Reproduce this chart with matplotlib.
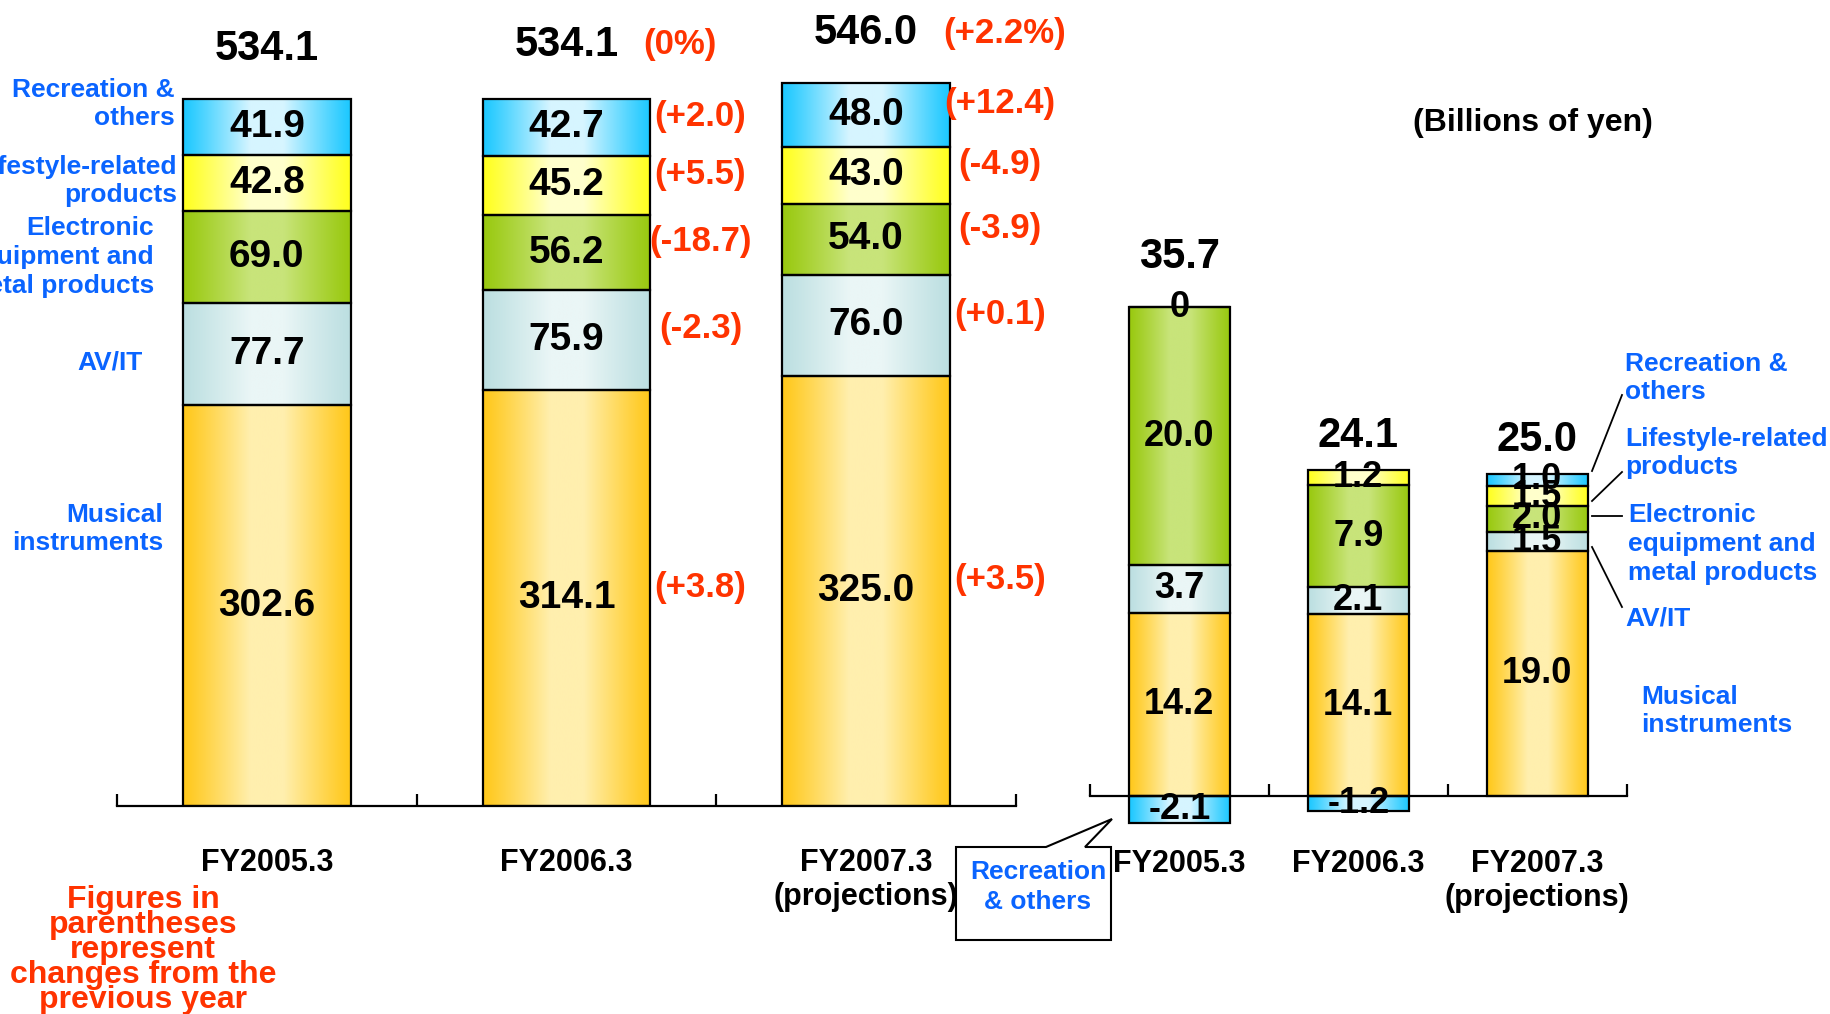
import numpy as np
import matplotlib.pyplot as plt
from matplotlib.patches import Polygon
from matplotlib.lines import Line2D

plt.rcParams['font.family'] = ['Liberation Sans', 'DejaVu Sans']
plt.rcParams['font.weight'] = 'bold'

W, H = 1831, 1014

# ---- data ----
years = ["FY2005.3", "FY2006.3", "FY2007.3\n(projections)"]
segments = ["Musical instruments", "AV/IT", "Electronic equipment and metal products",
            "Lifestyle-related products", "Recreation & others"]

# sales (billions of yen), bottom -> top
sales = [
    [302.6, 314.1, 325.0],   # musical instruments
    [77.7, 75.9, 76.0],      # AV/IT
    [69.0, 56.2, 54.0],      # electronic equipment
    [42.8, 45.2, 43.0],      # lifestyle-related
    [41.9, 42.7, 48.0],      # recreation & others
]
sales_total = ["534.1", "534.1", "546.0"]
sales_total_chg = ["", "(0%)", "(+2.2%)"]
sales_chg = [
    ["", "(+3.8)", "(+3.5)"],
    ["", "(-2.3)", "(+0.1)"],
    ["", "(-18.7)", "(-3.9)"],
    ["", "(+5.5)", "(-4.9)"],
    ["", "(+2.0)", "(+12.4)"],
]

# operating income (billions of yen)
income = [
    [14.2, 14.1, 19.0],
    [3.7, 2.1, 1.5],
    [20.0, 7.9, 2.0],
    [0.0, 1.2, 1.5],
    [-2.1, -1.2, 1.0],
]
income_total = ["35.7", "24.1", "25.0"]

# gradient colours (edge, centre) per segment
grads = [
    ("#FFC81A", "#FFEFAE"),
    ("#BCDFE1", "#EAF6F6"),
    ("#99C90F", "#C8E47A"),
    ("#FFFF1E", "#FFFFCC"),
    ("#1CC8FF", "#D6F5FF"),
]
BLUE = "#0A64FF"
RED = "#FF3300"


def px(x, y):
    return x / W, 1 - y / H


def gradient(edge, centre, n=256):
    e = np.array(plt.matplotlib.colors.to_rgb(edge))
    c = np.array(plt.matplotlib.colors.to_rgb(centre))
    x = np.linspace(0, 1, n)
    t = np.clip((1 - np.abs(2 * x - 1)) * 1.25, 0, 1) ** 1.1
    return (e + (c - e) * t[:, None])[None, :, :]


def stacked(ax, values, width, label_size):
    xs = np.arange(len(years))
    pos = np.zeros(len(years))
    neg = np.zeros(len(years))
    mids = []
    for k, vals in enumerate(values):
        vals = np.array(vals)
        bottoms = np.where(vals >= 0, pos, neg)
        bars = ax.bar(xs, vals, width, bottom=bottoms, facecolor="none",
                      edgecolor="black", linewidth=1.6, zorder=3)
        img = gradient(*grads[k])
        for b, v in zip(bars, vals):
            if v == 0:
                continue
            y0, y1 = sorted([b.get_y(), b.get_y() + b.get_height()])
            ax.imshow(img, extent=(b.get_x(), b.get_x() + b.get_width(), y0, y1),
                      aspect="auto", zorder=2, interpolation="bilinear")
        mids.append(bottoms + vals / 2)
        for i, v in enumerate(vals):
            lab = "0" if v == 0 else f"{v:.1f}"
            ax.text(xs[i], bottoms[i] + v / 2, lab, ha="center", va="center",
                    fontsize=label_size, fontweight="bold", zorder=4)
        pos = np.where(vals >= 0, pos + vals, pos)
        neg = np.where(vals < 0, neg + vals, neg)
    return pos, mids


def style_axis(ax, ylim, pad):
    ax.set_xlim(-0.5, 2.5)
    ax.set_ylim(*ylim)
    for s in ["left", "right", "top"]:
        ax.spines[s].set_visible(False)
    ax.spines["bottom"].set_position(("data", 0))
    ax.spines["bottom"].set_linewidth(1.6)
    ax.set_yticks([])
    ax.set_xticks(range(3))
    ax.set_xticklabels(years, fontsize=22, fontweight="bold", linespacing=1.2)
    ax.tick_params(axis="x", which="major", length=0, pad=pad)
    ax.set_xticks([-0.5, 0.5, 1.5, 2.5], minor=True)
    ax.tick_params(axis="x", which="minor", direction="in", length=9, width=1.6)


fig = plt.figure(figsize=(W / 100, H / 100), dpi=100)

# ---- left chart: sales ----
axL = fig.add_axes([117 / W, (H - 806) / H, (1016 - 117) / W, 600 * 1.3237 / H])
tops, mids = stacked(axL, sales, 0.56, 28)
style_axis(axL, (0, 600), 30)
off_L = [36, 39, 36]
for i in range(3):
    axL.annotate(sales_total[i], (i, tops[i]), xytext=(0, off_L[i]),
                 textcoords="offset points", ha="center", va="center",
                 fontsize=30, fontweight="bold")
    if sales_total_chg[i]:
        axL.annotate(sales_total_chg[i], (i + 0.28, tops[i]), xytext=(-5, off_L[i]),
                     textcoords="offset points", ha="left", va="center",
                     fontsize=25, fontweight="bold", color=RED)
    for k in range(len(segments)):
        if sales_chg[k][i]:
            axL.annotate(sales_chg[k][i], (i + 0.28, mids[k][i]), xytext=(36, 8),
                         textcoords="offset points", ha="center", va="center",
                         fontsize=25, fontweight="bold", color=RED)

# ---- right chart: operating income ----
axR = fig.add_axes([1090 / W, (H - 860.5) / H, (1626.6 - 1090) / W, 55 * 12.9 / H])
topsR, _ = stacked(axR, income, 0.565, 26)
style_axis(axR, (-5, 50), 38)
off_R = [36, 24, 24]
for i in range(3):
    axR.annotate(income_total[i], (i, topsR[i]), xytext=(0, off_R[i]),
                 textcoords="offset points", ha="center", va="center",
                 fontsize=30, fontweight="bold")

fig.text(*px(1533, 123), "(Billions of yen)", ha="center", va="center",
         fontsize=23, fontweight="bold")

# ---- left segment labels ----
left_labels = [
    ("Recreation &\nothers", 175, 104),
    ("Lifestyle-related\nproducts", 177, 181),
    ("Electronic\nequipment and\nmetal products", 154, 257),
    ("AV/IT", 143, 362),
    ("Musical\ninstruments", 163, 529),
]
for txt, x, y in left_labels:
    fig.text(*px(x, y), txt, ha="right", va="center", fontsize=19,
             fontweight="bold", color=BLUE, linespacing=1.25)

# ---- right segment labels ----
right_labels = [
    ("Recreation &\nothers", 1625, 378),
    ("Lifestyle-related\nproducts", 1625, 453),
    ("Electronic\nequipment and\nmetal products", 1628, 544),
    ("AV/IT", 1625, 618),
    ("Musical\ninstruments", 1641, 711),
]
for txt, x, y in right_labels:
    fig.text(*px(x, y), txt, ha="left", va="center", fontsize=19,
             fontweight="bold", color=BLUE, linespacing=1.25)

leaders = [
    ((1592, 471), (1622, 395)),
    ((1592, 501), (1622, 472)),
    ((1592, 516), (1622, 516)),
    ((1592, 547), (1622, 607)),
]
for a, b in leaders:
    (x0, y0), (x1, y1) = px(*a), px(*b)
    fig.add_artist(Line2D([x0, x1], [y0, y1], transform=fig.transFigure,
                          color="black", lw=1.3))

# ---- callout ----
callout = [(956, 847), (1046, 847), (1112, 819), (1085, 847), (1111, 847),
           (1111, 940), (956, 940)]
fig.add_artist(Polygon([px(x, y) for x, y in callout], closed=True,
                       transform=fig.transFigure, facecolor="white",
                       edgecolor="black", lw=1.5, zorder=5))
fig.text(*px(1038, 887), "Recreation\n& others", ha="center", va="center",
         fontsize=19, fontweight="bold", color=BLUE, linespacing=1.35, zorder=6)

# ---- note ----
fig.text(*px(143, 950), "Figures in\nparentheses\nrepresent\nchanges from the\nprevious year",
         ha="center", va="center", fontsize=23, fontweight="bold", color=RED,
         linespacing=0.78)

fig.savefig("out.png", dpi=100)
